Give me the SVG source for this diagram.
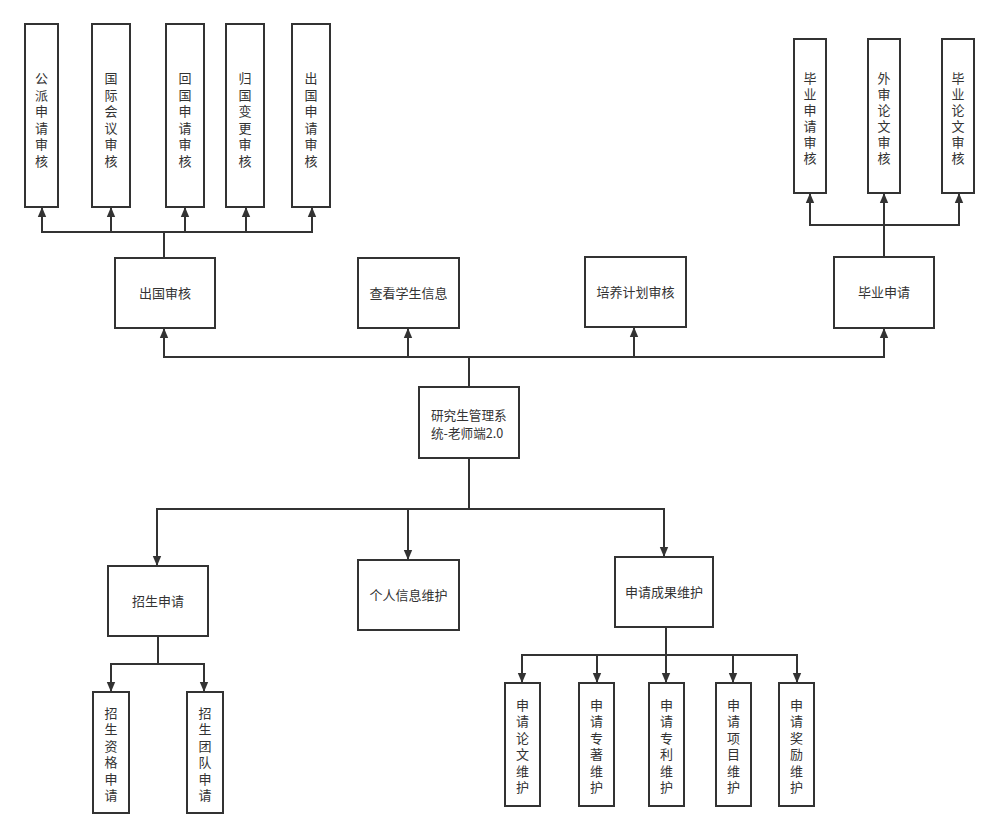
<svg xmlns="http://www.w3.org/2000/svg" width="999" height="838" viewBox="0 0 999 838">
<defs>
<marker id="arr" viewBox="0 0 10 10" refX="10" refY="5" markerWidth="10" markerHeight="10" markerUnits="userSpaceOnUse" orient="auto">
<path d="M0,0.8 L10,5 L0,9.2 Z" fill="#333"/>
</marker>
<style>
.box{fill:#fff;stroke:#333;stroke-width:2}
.t{font-family:"Noto Sans CJK SC","Noto Sans",sans-serif;font-size:13px;fill:#333;text-anchor:middle}
.v{font-family:"Noto Sans CJK SC","Noto Sans",sans-serif;font-size:13px;fill:#333;writing-mode:vertical-rl;text-anchor:start}
.v1{letter-spacing:3.6px}
.v2{letter-spacing:3px}
.v3{letter-spacing:3.4px}
.c{fill:none;stroke:#333;stroke-width:2;marker-end:url(#arr)}
</style>
</defs>
<rect width="999" height="838" fill="#fff"/>
<g id="connectors">
<path class="c" d="M164 258 V232 H42 V207"/>
<path class="c" d="M164 258 V232 H111 V207"/>
<path class="c" d="M164 258 V232 H185 V207"/>
<path class="c" d="M164 258 V232 H246 V207"/>
<path class="c" d="M164 258 V232 H312 V207"/>
<path class="c" d="M884 257 V225 H810 V193"/>
<path class="c" d="M884 257 V193"/>
<path class="c" d="M884 257 V225 H959 V193"/>
<path class="c" d="M469 387 V357 H164 V328"/>
<path class="c" d="M469 387 V357 H408 V328"/>
<path class="c" d="M469 387 V357 H634 V327"/>
<path class="c" d="M469 387 V357 H884 V328"/>
<path class="c" d="M469 458 V509 H157 V566"/>
<path class="c" d="M469 458 V509 H408 V560"/>
<path class="c" d="M469 458 V509 H664 V557"/>
<path class="c" d="M158 636 V664 H111 V692"/>
<path class="c" d="M158 636 V664 H204 V692"/>
<path class="c" d="M666 627 V655 H522 V683"/>
<path class="c" d="M666 627 V655 H597 V683"/>
<path class="c" d="M666 627 V683"/>
<path class="c" d="M666 627 V655 H733 V683"/>
<path class="c" d="M666 627 V655 H797 V683"/>
</g>
<g id="n_gpsq"><rect class="box" x="25" y="24" width="33" height="183"/><text class="v v1" x="41.5" y="71.5">公派申请审核</text></g>
<g id="n_gjhy"><rect class="box" x="92" y="24" width="38" height="183"/><text class="v v1" x="111" y="71.5">国际会议审核</text></g>
<g id="n_hgsq"><rect class="box" x="166" y="24" width="38" height="183"/><text class="v v1" x="185" y="71.5">回国申请审核</text></g>
<g id="n_ggbg"><rect class="box" x="226" y="24" width="38" height="183"/><text class="v v1" x="245" y="71.5">归国变更审核</text></g>
<g id="n_cgsq"><rect class="box" x="292" y="24" width="38" height="183"/><text class="v v1" x="311" y="71.5">出国申请审核</text></g>
<g id="n_bysqsh"><rect class="box" x="794" y="39" width="32" height="154"/><text class="v v2" x="810" y="71.5">毕业申请审核</text></g>
<g id="n_wslw"><rect class="box" x="868" y="39" width="32" height="154"/><text class="v v2" x="884" y="71.5">外审论文审核</text></g>
<g id="n_bylw"><rect class="box" x="942" y="39" width="32" height="154"/><text class="v v2" x="958" y="71.5">毕业论文审核</text></g>
<g id="n_cgsh"><rect class="box" x="115" y="258" width="100" height="70"/><text class="t" x="165" y="298">出国审核</text></g>
<g id="n_ckxs"><rect class="box" x="358" y="258" width="101" height="70"/><text class="t" x="408.5" y="298">查看学生信息</text></g>
<g id="n_pyjh"><rect class="box" x="585" y="257" width="101" height="70"/><text class="t" x="635.5" y="297">培养计划审核</text></g>
<g id="n_bysq"><rect class="box" x="834" y="257" width="100" height="71"/><text class="t" x="884" y="297">毕业申请</text></g>
<g id="n_root"><rect class="box" x="419" y="387" width="100" height="71"/><text class="t" style="text-anchor:start;font-size:12.6px"><tspan x="431" y="419.5">研究生管理系</tspan><tspan x="431" y="437.9">统-老师端2.0</tspan></text></g>
<g id="n_zssq"><rect class="box" x="108" y="566" width="100" height="70"/><text class="t" x="158" y="606">招生申请</text></g>
<g id="n_grxx"><rect class="box" x="358" y="560" width="101" height="70"/><text class="t" x="408.5" y="600">个人信息维护</text></g>
<g id="n_sqcg"><rect class="box" x="615" y="557" width="98" height="70"/><text class="t" x="664" y="597">申请成果维护</text></g>
<g id="n_zszg"><rect class="box" x="93" y="692" width="36" height="121"/><text class="v v3" x="111" y="706.5">招生资格申请</text></g>
<g id="n_zstd"><rect class="box" x="187" y="692" width="36" height="121"/><text class="v v3" x="205" y="706.5">招生团队申请</text></g>
<g id="n_lw"><rect class="box" x="505" y="683" width="35" height="123"/><text class="v v3" x="522.5" y="698.5">申请论文维护</text></g>
<g id="n_zz"><rect class="box" x="579" y="683" width="35" height="123"/><text class="v v3" x="596.5" y="698.5">申请专著维护</text></g>
<g id="n_zl"><rect class="box" x="649" y="683" width="35" height="123"/><text class="v v3" x="666.5" y="698.5">申请专利维护</text></g>
<g id="n_xm"><rect class="box" x="716" y="683" width="35" height="123"/><text class="v v3" x="733.5" y="698.5">申请项目维护</text></g>
<g id="n_jl"><rect class="box" x="779" y="683" width="35" height="123"/><text class="v v3" x="796.5" y="698.5">申请奖励维护</text></g>
</svg>
